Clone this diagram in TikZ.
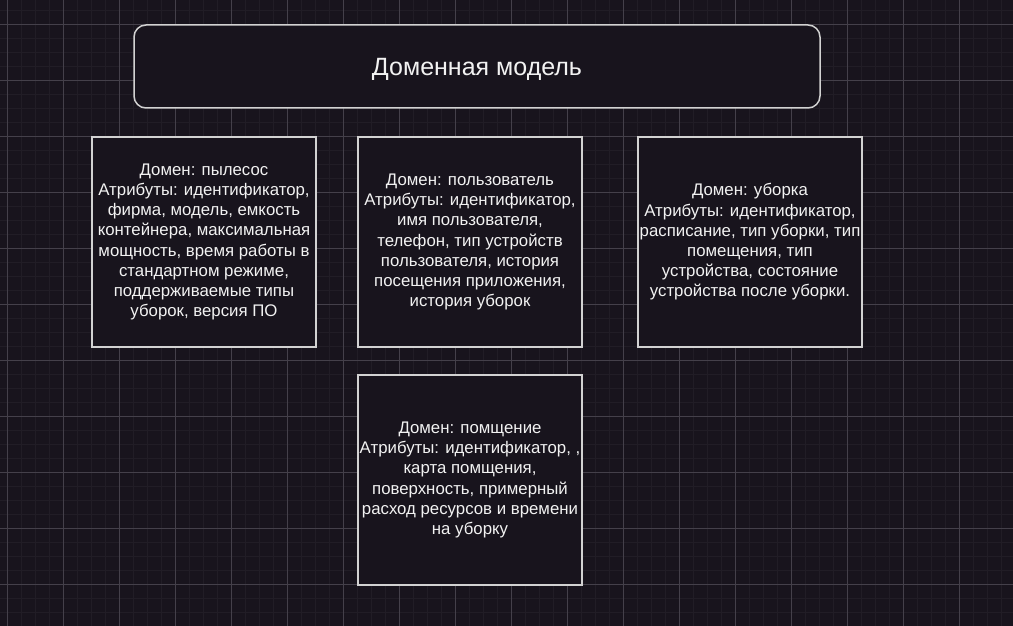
\documentclass[tikz,border=0pt]{standalone}
\usepackage{fontspec}
\setmainfont{Liberation Sans}
\definecolor{canvas}{HTML}{18141D}
\definecolor{gridminor}{HTML}{211D26}
\definecolor{gridmajor}{HTML}{44404A}
\definecolor{edge}{HTML}{D2D2D2}
\definecolor{ink}{HTML}{F2F2F2}
\tikzset{
  domainbox/.style={draw=edge, line width=1.3pt, fill=canvas, text=ink,
    minimum width=224pt, minimum height=210pt, inner sep=0pt, align=center,
    font=\fontsize{16.8}{20.2}\selectfont},
  titlebox/.style={draw=edge, line width=1.5pt, fill=canvas, text=ink,
    rounded corners=12pt, minimum width=686pt, minimum height=83pt,
    inner sep=0pt, text height=21pt, text depth=2pt,
    font=\fontsize{25}{30}\selectfont}
}
\begin{document}
\begin{tikzpicture}[x=1pt,y=-1pt]
  % canvas and background grid
  \fill[canvas] (0,0) rectangle (1013,626);
  \useasboundingbox (0,0) rectangle (1013,626);
  \foreach \i in {0,...,73} {
    \draw[gridminor, line width=1.2pt] ({-6.7+14*\i},0) -- ({-6.7+14*\i},626);
  }
  \foreach \j in {0,...,45} {
    \draw[gridminor, line width=1.2pt] (0,{-3.7+14*\j}) -- (1013,{-3.7+14*\j});
  }
  \foreach \i in {0,...,18} {
    \draw[gridmajor, line width=0.9pt] ({7.3+56*\i},0) -- ({7.3+56*\i},626);
  }
  \foreach \j in {0,...,11} {
    \draw[gridmajor, line width=0.9pt] (0,{24.3+56*\j}) -- (1013,{24.3+56*\j});
  }

  % title
  \node[titlebox] (title) at (477,66.5) {Доменная модель};

  % domain boxes
  \node[domainbox] (vacuum) at (204,242) {Домен: пылесос\\
    Атрибуты: идентификатор,\\
    фирма, модель, емкость\\
    контейнера, максимальная\\
    мощность, время работы в\\
    стандартном режиме,\\
    поддерживаемые типы\\
    уборок, версия ПО};

  \node[domainbox] (user) at (470,242) {Домен: пользователь\\
    Атрибуты: идентификатор,\\
    имя пользователя,\\
    телефон, тип устройств\\
    пользователя, история\\
    посещения приложения,\\
    история уборок};

  \node[domainbox] (cleaning) at (750,242) {Домен: уборка\\
    Атрибуты: идентификатор,\\
    расписание, тип уборки, тип\\
    помещения, тип\\
    устройства, состояние\\
    устройства после уборки.};

  \node[domainbox] (room) at (470,480) {Домен: помщение\\
    Атрибуты: идентификатор, ,\\
    карта помщения,\\
    поверхность, примерный\\
    расход ресурсов и времени\\
    на уборку};
\end{tikzpicture}
\end{document}
